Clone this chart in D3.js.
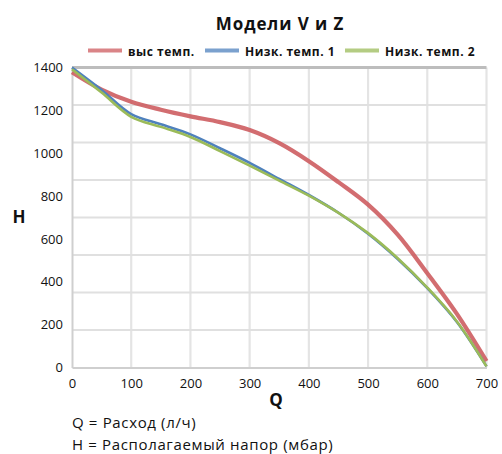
<!DOCTYPE html>
<html>
<head>
<meta charset="utf-8">
<script src="https://cdn.jsdelivr.net/npm/d3@7"></script>
<style>
  html, body { margin: 0; padding: 0; background: #fff; }
  svg { display: block; font-family: "Open Sans", "Noto Sans", sans-serif; }
</style>
</head>
<body>
<svg id="chart" width="502" height="454"></svg>
<script>
// Flow rate Q (л/ч) sampled every 50
const flow = [0, 50, 100, 150, 200, 250, 300, 350, 400, 450, 500, 550, 600, 650, 700];
// Available head H (мбар) for each model variant
const highTemp = [1378, 1297, 1240, 1203, 1172, 1145, 1108, 1047, 963, 865, 760, 620, 440, 250, 30];
const lowTemp1 = [1400, 1295, 1182, 1135, 1088, 1023, 955, 880, 805, 722, 624, 506, 370, 212, 5];
const lowTemp2 = [1392, 1283, 1170, 1123, 1076, 1010, 942, 872, 802, 722, 627, 510, 373, 215, 5];

const seriesNames = ["выс темп.", "Низк. темп. 1", "Низк. темп. 2"];
const seriesColors = ["#cd5c60", "#4f81bd", "#9bbb59"];
const seriesValues = [highTemp, lowTemp1, lowTemp2];

const xTicks = [0, 100, 200, 300, 400, 500, 600, 700];
const yTicks = [0, 200, 400, 600, 800, 1000, 1200, 1400];
const yGrid = [0, 175, 350, 525, 700, 875, 1050, 1225, 1400];

const svg = d3.select("#chart");
const x = d3.scaleLinear().domain([0, 700]).range([72, 486.5]);
const y = d3.scaleLinear().domain([0, 1400]).range([367.5, 67.5]);

const defs = svg.append("defs");
defs.append("filter").attr("id", "soft")
  .attr("filterUnits", "userSpaceOnUse")
  .attr("x", 0).attr("y", 0).attr("width", 502).attr("height", 454)
  .append("feGaussianBlur").attr("stdDeviation", 0.7);

// Title
svg.append("text")
  .attr("x", 280).attr("y", 30)
  .attr("text-anchor", "middle")
  .attr("font-size", 17).attr("font-weight", "bold").attr("fill", "#111")
  .attr("letter-spacing", 0.9)
  .text("Модели V и Z");

// Grid
const grid = svg.append("g");
grid.selectAll("line.v").data(xTicks.slice(1)).join("line")
  .attr("x1", d => x(d)).attr("x2", d => x(d))
  .attr("y1", y(1400)).attr("y2", y(0))
  .attr("stroke", "#e4e4e4").attr("stroke-width", 2.2);
grid.selectAll("line.h").data(yGrid.slice(1, -1)).join("line")
  .attr("x1", x(0)).attr("x2", x(700))
  .attr("y1", d => y(d)).attr("y2", d => y(d))
  .attr("stroke", "#e0e0e0").attr("stroke-width", 2.2);
// top border of the plot
grid.append("line")
  .attr("x1", x(0)).attr("x2", x(700)).attr("y1", y(1400)).attr("y2", y(1400))
  .attr("stroke", "#bdbdbd").attr("stroke-width", 3);

// Axes
const xAxis = svg.append("g")
  .attr("transform", `translate(0,${y(0)})`)
  .call(d3.axisBottom(x).tickValues(xTicks).tickSize(0).tickPadding(11).tickFormat(d3.format("d")));
const yAxis = svg.append("g")
  .attr("transform", `translate(${x(0)},0)`)
  .call(d3.axisLeft(y).tickValues(yTicks).tickSize(0).tickPadding(9).tickFormat(d3.format("d")));
[xAxis, yAxis].forEach(a => {
  a.select(".domain").attr("stroke", "#cfcfcf").attr("stroke-width", 2);
  a.selectAll("text").attr("font-size", 13).attr("fill", "#111")
    .attr("font-family", "\"Open Sans\", sans-serif");
});

// Axis titles
svg.append("text").attr("x", 276).attr("y", 406).attr("text-anchor", "middle")
  .attr("font-size", 17).attr("font-weight", "bold").attr("fill", "#111").text("Q");
svg.append("text").attr("x", 19).attr("y", 223).attr("text-anchor", "middle")
  .attr("font-size", 17).attr("font-weight", "bold").attr("fill", "#111").text("H");

// Curves
const line = d3.line()
  .x((d, i) => x(flow[i]))
  .y(d => y(d))
  .curve(d3.curveCatmullRom.alpha(0.5));

const curves = svg.append("g");
curves.append("path").datum(seriesValues[0])
  .attr("d", line).attr("fill", "none")
  .attr("stroke", seriesColors[0]).attr("stroke-width", 4.2)
  .attr("stroke-opacity", 0.9).attr("filter", "url(#soft)");
curves.append("path").datum(seriesValues[1])
  .attr("d", line).attr("fill", "none")
  .attr("stroke", seriesColors[1]).attr("stroke-width", 2.6);
curves.append("path").datum(seriesValues[2])
  .attr("d", line).attr("fill", "none")
  .attr("stroke", seriesColors[2]).attr("stroke-width", 2.6);

// Legend
const legendX = [88, 205, 345];
const legend = svg.append("g");
seriesNames.forEach((name, i) => {
  legend.append("line")
    .attr("x1", legendX[i]).attr("x2", legendX[i] + 34)
    .attr("y1", 50.5).attr("y2", 50.5)
    .attr("stroke", seriesColors[i]).attr("stroke-width", 4)
    .attr("stroke-opacity", 0.75).attr("filter", "url(#soft)");
  legend.append("text")
    .attr("x", legendX[i] + 40).attr("y", 55.5)
    .attr("font-size", 12).attr("font-weight", "bold").attr("fill", "#111")
    .attr("letter-spacing", 0.5)
    .text(name);
});

// Footnotes
svg.append("text").attr("x", 72).attr("y", 428)
  .attr("font-size", 15).attr("letter-spacing", 0.65).attr("fill", "#111")
  .text("Q = Расход (л/ч)");
svg.append("text").attr("x", 72).attr("y", 449.5)
  .attr("font-size", 15).attr("letter-spacing", 0.65).attr("fill", "#111")
  .text("H = Располагаемый напор (мбар)");
</script>
</body>
</html>
